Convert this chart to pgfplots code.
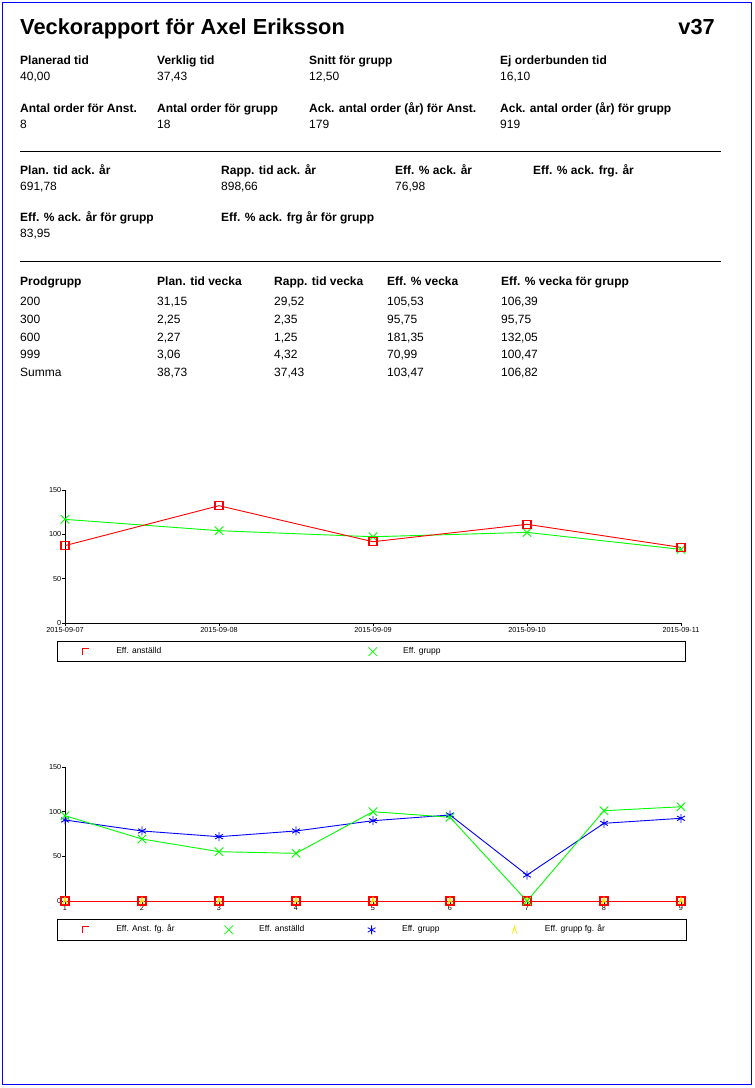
\documentclass[border=0pt]{standalone}
\usepackage{fontspec}
\setmainfont{Liberation Sans}
\usepackage{pgfplots}
\pgfplotsset{compat=1.18}

% open caret mark for "Eff. grupp fg. år"
\pgfdeclareplotmark{caret}{%
  \pgfpathmoveto{\pgfqpoint{-0.6\pgfplotmarksize}{-\pgfplotmarksize}}%
  \pgfpathlineto{\pgfqpoint{0pt}{\pgfplotmarksize}}%
  \pgfpathlineto{\pgfqpoint{0.6\pgfplotmarksize}{-\pgfplotmarksize}}%
  \pgfusepathqstroke}

\definecolor{rgreen}{RGB}{0,255,0}
\definecolor{rred}{RGB}{255,0,0}
\definecolor{ryellow}{RGB}{255,235,0}

\pgfplotsset{
  rapport/.style={
    scale only axis,
    width=616pt,
    ymin=0, ymax=150,
    ytick={0,50,100,150},
    axis lines=left,
    axis line style={-, black, line width=0.8pt},
    tick align=outside,
    major tick length=3pt,
    tick style={black, line width=0.8pt},
    ticklabel style={font=\fontsize{7.3}{8}\selectfont},
    yticklabel style={inner sep=0.5pt},
    xticklabel style={inner sep=1pt},
    /pgf/number format/assume math mode=true,
    clip=false,
    legend cell align=left,
    legend style={anchor=north west, draw=black, line width=0.8pt,
      inner xsep=24pt, inner ysep=6pt,
      font=\fontsize{8.5}{9}\selectfont,
      nodes={inner sep=0pt, text height=6pt, text depth=2pt},
      /tikz/every even column/.append style={column sep=0pt}},
    every axis plot/.append style={line width=0.9pt},
  },
  legred/.style={legend image code/.code={
    \path (-4pt,0pt) (30pt,0pt);
    \draw[rred, line width=1pt] (-3pt,-3pt) -- (-3pt,3pt) -- (3.5pt,3pt);}},
  leggreen/.style={legend image code/.code={
    \path (-4pt,0pt) (30pt,0pt);
    \draw[rgreen, line width=0.8pt, mark size=6pt] plot[only marks, mark=x] coordinates {(0pt,0pt)};}},
  legblue/.style={legend image code/.code={
    \path (-4pt,0pt) (30pt,0pt);
    \draw[blue, line width=0.8pt, mark size=4.5pt] plot[only marks, mark=asterisk] coordinates {(0pt,0pt)};}},
  legyellow/.style={legend image code/.code={
    \path (-4pt,0pt) (30pt,0pt);
    \draw[ryellow, line width=0.8pt, mark size=3.5pt] plot[only marks, mark=caret] coordinates {(0pt,0pt)};}},
}

\begin{document}
\begin{tikzpicture}[
  lbl/.style={anchor=base west, inner sep=0pt, font=\bfseries\fontsize{12}{14}\selectfont},
  val/.style={anchor=base west, inner sep=0pt, font=\fontsize{12}{14}\selectfont}]
\path[use as bounding box] (0pt,0pt) rectangle (755pt,-1088pt);
\draw[blue, line width=1pt] (2.5pt,-2.5pt) rectangle (751.5pt,-1084.5pt);

% header
\node[anchor=base west, inner sep=0pt, font=\bfseries\fontsize{21.8}{24}\selectfont] at (20pt,-34pt) {Veckorapport för Axel Eriksson};
\node[anchor=base east, inner sep=0pt, font=\bfseries\fontsize{21.8}{24}\selectfont] at (715pt,-34pt) {v37};

\node[lbl] at (20pt,-64pt) {Planerad tid};
\node[lbl] at (157pt,-64pt) {Verklig tid};
\node[lbl] at (309pt,-64pt) {Snitt för grupp};
\node[lbl] at (500pt,-64pt) {Ej orderbunden tid};
\node[val] at (20pt,-80pt) {40,00};
\node[val] at (157pt,-80pt) {37,43};
\node[val] at (309pt,-80pt) {12,50};
\node[val] at (500pt,-80pt) {16,10};

\node[lbl] at (20pt,-112pt) {Antal order för Anst.};
\node[lbl] at (157pt,-112pt) {Antal order för grupp};
\node[lbl] at (309pt,-112pt) {Ack. antal order (år) för Anst.};
\node[lbl] at (500pt,-112pt) {Ack. antal order (år) för grupp};
\node[val] at (20pt,-128pt) {8};
\node[val] at (157pt,-128pt) {18};
\node[val] at (309pt,-128pt) {179};
\node[val] at (500pt,-128pt) {919};

\draw[black, line width=0.8pt] (20pt,-151pt) -- (721pt,-151pt);

\node[lbl] at (20pt,-174pt) {Plan. tid ack. år};
\node[lbl] at (221pt,-174pt) {Rapp. tid ack. år};
\node[lbl] at (395pt,-174pt) {Eff. \% ack. år};
\node[lbl] at (533pt,-174pt) {Eff. \% ack. frg. år};
\node[val] at (20pt,-190pt) {691,78};
\node[val] at (221pt,-190pt) {898,66};
\node[val] at (395pt,-190pt) {76,98};

\node[lbl] at (20pt,-221pt) {Eff. \% ack. år för grupp};
\node[lbl] at (221pt,-221pt) {Eff. \% ack. frg år för grupp};
\node[val] at (20pt,-237pt) {83,95};

\draw[black, line width=0.8pt] (20pt,-261pt) -- (721pt,-261pt);

% table
\node[lbl] at (20pt,-285pt) {Prodgrupp};
\node[lbl] at (157pt,-285pt) {Plan. tid vecka};
\node[lbl] at (274pt,-285pt) {Rapp. tid vecka};
\node[lbl] at (387pt,-285pt) {Eff. \% vecka};
\node[lbl] at (501pt,-285pt) {Eff. \% vecka för grupp};

\node[val] at (20pt,-305pt) {200};
\node[val] at (157pt,-305pt) {31,15};
\node[val] at (274pt,-305pt) {29,52};
\node[val] at (387pt,-305pt) {105,53};
\node[val] at (501pt,-305pt) {106,39};

\node[val] at (20pt,-323pt) {300};
\node[val] at (157pt,-323pt) {2,25};
\node[val] at (274pt,-323pt) {2,35};
\node[val] at (387pt,-323pt) {95,75};
\node[val] at (501pt,-323pt) {95,75};

\node[val] at (20pt,-341pt) {600};
\node[val] at (157pt,-341pt) {2,27};
\node[val] at (274pt,-341pt) {1,25};
\node[val] at (387pt,-341pt) {181,35};
\node[val] at (501pt,-341pt) {132,05};

\node[val] at (20pt,-358pt) {999};
\node[val] at (157pt,-358pt) {3,06};
\node[val] at (274pt,-358pt) {4,32};
\node[val] at (387pt,-358pt) {70,99};
\node[val] at (501pt,-358pt) {100,47};

\node[val] at (20pt,-376pt) {Summa};
\node[val] at (157pt,-376pt) {38,73};
\node[val] at (274pt,-376pt) {37,43};
\node[val] at (387pt,-376pt) {103,47};
\node[val] at (501pt,-376pt) {106,82};

% chart 1: per day
\begin{axis}[rapport,
    at={(65pt,-623pt)}, anchor=south west,
    height=133pt,
    xmin=0, xmax=4,
    xtick={0,1,2,3,4},
    xticklabels={2015-09-07,2015-09-08,2015-09-09,2015-09-10,2015-09-11},
    legend columns=2,
    legend style={at={(-0.013,-0.1353)}},
  ]
  \addplot[rgreen, mark=x, mark size=6pt, forget plot] coordinates {
    (0,116.9) (1,104.1) (2,97.3) (3,102.2) (4,83)};
  \addplot[rred, mark=square, mark size=4pt, mark options={rred, line width=1.5pt}, forget plot] coordinates {
    (0,87.3) (1,132.3) (2,91.7) (3,111.3) (4,85.3)};
  \addlegendimage{legred}
  \addlegendentry{\makebox[252pt][l]{Eff. anställd}}
  \addlegendimage{leggreen}
  \addlegendentry{\makebox[258pt][l]{Eff. grupp}}
\end{axis}

% chart 2: per week
\begin{axis}[rapport,
    at={(65pt,-901pt)}, anchor=south west,
    height=134pt,
    xmin=1, xmax=9,
    xtick={1,2,3,4,5,6,7,8,9},
    legend columns=4,
    legend style={at={(-0.013,-0.1343)}},
  ]
  \addplot[ryellow, mark=caret, mark size=3.5pt, forget plot] coordinates {
    (1,0) (2,0) (3,0) (4,0) (5,0) (6,0) (7,0) (8,0) (9,0)};
  \addplot[rred, mark=square, mark size=4pt, mark options={rred, line width=1.5pt}, forget plot] coordinates {
    (1,0) (2,0) (3,0) (4,0) (5,0) (6,0) (7,0) (8,0) (9,0)};
  \addplot[ryellow, only marks, mark=caret, mark size=3pt, mark options={line width=1.2pt}, forget plot] coordinates {
    (1,0) (2,0) (3,0) (4,0) (5,0) (6,0) (7,0) (8,0) (9,0)};
  \addplot[blue, mark=asterisk, mark size=4.5pt, forget plot] coordinates {
    (1,90.7) (2,78.4) (3,72) (4,78.4) (5,89.9) (6,96.3) (7,29.1) (8,87) (9,92.6)};
  \addplot[rgreen, mark=x, mark size=6pt, forget plot] coordinates {
    (1,95.5) (2,69.4) (3,55.2) (4,53.4) (5,100) (6,93.7) (7,0) (8,101.1) (9,105.5)};
  \addlegendimage{legred}
  \addlegendentry{\makebox[108pt][l]{Eff. Anst. fg. år}}
  \addlegendimage{leggreen}
  \addlegendentry{\makebox[108pt][l]{Eff. anställd}}
  \addlegendimage{legblue}
  \addlegendentry{\makebox[108pt][l]{Eff. grupp}}
  \addlegendimage{legyellow}
  \addlegendentry{\makebox[117pt][l]{Eff. grupp fg. år}}
\end{axis}
\end{tikzpicture}
\end{document}
